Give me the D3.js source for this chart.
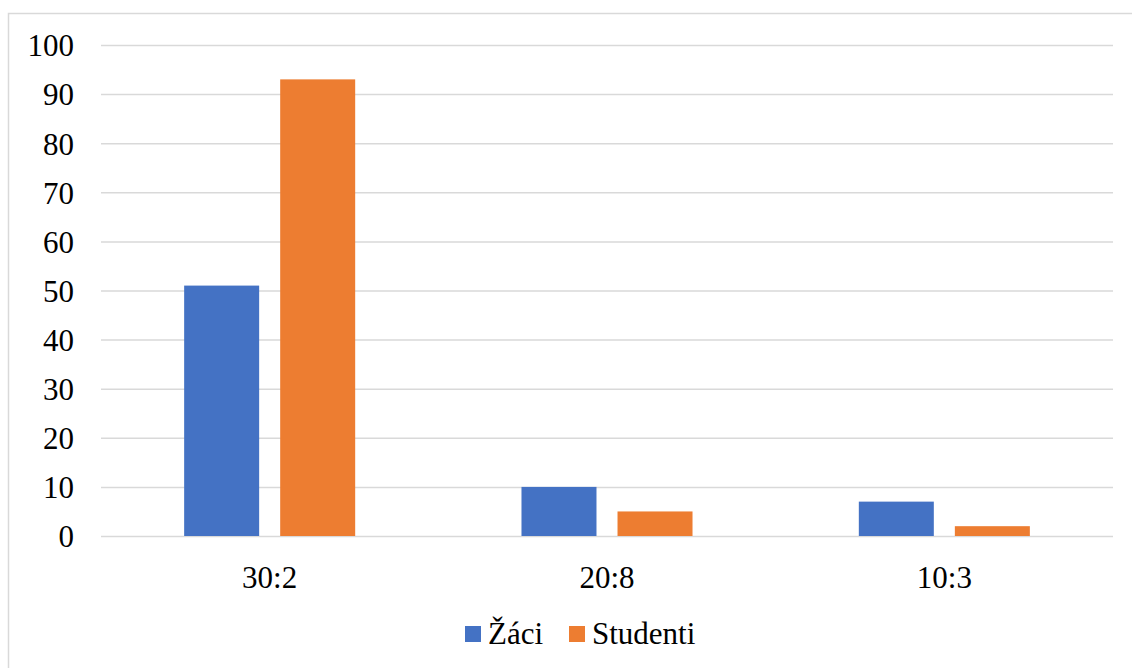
<!DOCTYPE html>
<html><head><meta charset="utf-8">
<script src="https://cdn.jsdelivr.net/npm/d3@7"></script>
</head><body style="margin:0">
<script>
const categories = ["30:2", "20:8", "10:3"];
const seriesNames = ["Žáci", "Studenti"];
const zaci = [51, 10, 7];
const studenti = [93, 5, 2];
const yTicks = [0, 10, 20, 30, 40, 50, 60, 70, 80, 90, 100];
const colors = ["#4472C4", "#ED7D31"];

const svg = d3.select("body").append("svg").attr("width", 1132).attr("height", 668)
  .style("display", "block").style("font-family", '"Times New Roman"');

svg.append("rect").attr("x", 8.5).attr("y", 13.5).attr("width", 1140).attr("height", 700)
  .attr("fill", "none").attr("stroke", "#d9d9d9").attr("stroke-width", 1.5);

const pLeft = 101, pRight = 1113, pTop = 45, pBottom = 536;
const y = d3.scaleLinear().domain([0, 100]).range([pBottom, pTop]);
const x0 = d3.scaleBand().domain(categories).range([pLeft, pRight]).paddingInner(0.493).paddingOuter(0.2465);
const x1 = d3.scaleBand().domain(seriesNames).range([0, x0.bandwidth()]).paddingInner(0.219);

const gy = svg.append("g").attr("transform", `translate(${pLeft},0)`)
  .call(d3.axisLeft(y).tickValues(yTicks).tickSize(-(pRight - pLeft)).tickPadding(12));
gy.attr("font-family", null).attr("font-size", null);
gy.select(".domain").remove();
gy.selectAll(".tick line").attr("stroke", "#d9d9d9").attr("stroke-width", 1.5);
gy.selectAll(".tick text").style("font-family", '"Times New Roman"').style("font-size", "31px")
  .attr("fill", "#000").attr("dy", "0.35em").attr("x", -27);

const data = categories.map((c, i) => ({cat: c, vals: [zaci[i], studenti[i]]}));
svg.append("g").selectAll("g").data(data).join("g")
  .attr("transform", d => `translate(${x0(d.cat)},0)`)
  .selectAll("rect").data(d => d.vals.map((v, j) => ({s: seriesNames[j], v, j})))
  .join("rect")
  .attr("x", d => x1(d.s)).attr("width", x1.bandwidth())
  .attr("y", d => y(d.v)).attr("height", d => y(0) - y(d.v))
  .attr("fill", d => colors[d.j]);

const gx = svg.append("g").attr("transform", `translate(0,${pBottom})`)
  .call(d3.axisBottom(x0).tickSize(0).tickPadding(0));
gx.attr("font-family", null).attr("font-size", null);
gx.select(".domain").remove();
gx.selectAll(".tick text").style("font-family", '"Times New Roman"').style("font-size", "31px")
  .attr("fill", "#000").attr("y", 52).attr("dy", 0);

const legX = [465, 569];
seriesNames.forEach((s, i) => {
  svg.append("rect").attr("x", legX[i]).attr("y", 626).attr("width", 16).attr("height", 16).attr("fill", colors[i]);
  svg.append("text").attr("x", legX[i] + 23).attr("y", 644)
    .style("font-family", '"Times New Roman"').style("font-size", "31px")
    .attr("fill", "#000").text(s);
});
</script>
</body></html>
